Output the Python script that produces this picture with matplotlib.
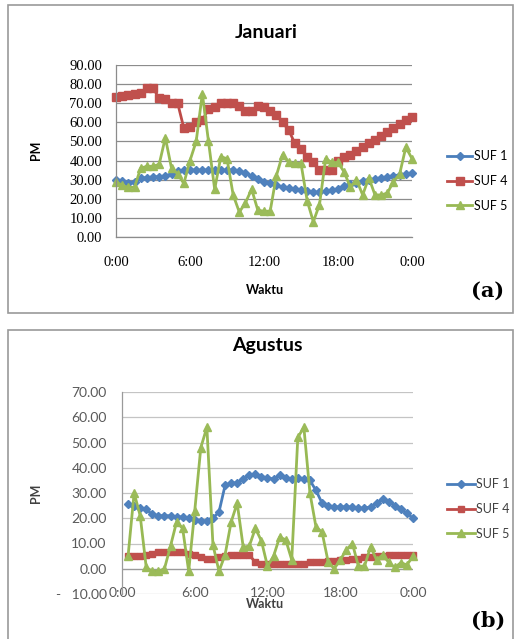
import matplotlib
matplotlib.use("Agg")
import matplotlib.pyplot as plt
from matplotlib.patches import Rectangle
import numpy as np

# ---------------- data ----------------
hours_jan = [i * 0.5 for i in range(49)]          # 0:00 .. 24:00, half-hourly
hours_aug = [i * 0.5 for i in range(1, 49)]       # 0:30 .. 24:00, half-hourly

jan_suf1 = [30, 29.5, 28, 29, 31, 31, 31.5, 31.5, 32, 33, 34.5, 35, 35, 35, 35, 35, 35, 35,
            35, 35, 34.5, 33.5, 32, 30.5, 29, 28, 27, 26, 25.5, 25, 24.5, 24, 23.5, 23.5,
            24, 24.5, 25, 26.5, 27.5, 28.5, 29.5, 30, 30.5, 31, 31.5, 32, 32.5, 33, 33.5]
jan_suf4 = [73, 74, 74.5, 75, 75.5, 78, 78, 72.5, 72, 70, 70, 57, 57.5, 60, 61, 67, 68, 70,
            70, 70, 68.5, 66, 66, 68.5, 68, 66, 64, 60, 56, 49, 46, 42, 39, 35, 35, 35,
            40, 42, 43, 45, 47, 49, 51, 53, 55, 57, 59, 61, 63]
jan_suf5 = [29, 27, 26, 26, 36, 37, 37, 38, 52, 36, 33, 28, 40, 50, 75, 50, 25, 42, 41, 22,
            13, 18, 25, 14, 13.5, 13.5, 32, 43, 39, 38.5, 38.5, 19, 8, 17, 41, 39, 39, 34,
            26, 30, 22, 31, 22, 22, 23, 29, 33, 47, 41]

aug_suf1 = [25.5, 25, 24, 23.5, 21.5, 21, 21, 21, 20.5, 20.5, 20, 19.5, 19, 19, 20, 22.5,
            33, 34, 34, 35.5, 37, 37.5, 36.5, 36, 35.5, 37, 36, 35.5, 36, 35.5, 35, 31, 26,
            25, 24.5, 24.5, 24.5, 24.5, 24, 24, 24.5, 26, 27.5, 26.5, 25, 23.5, 22, 20]
aug_suf4 = [5, 5, 5, 5.5, 6, 6.5, 6.5, 6.5, 6.5, 6.5, 6, 5.5, 4.5, 4, 4, 4.5, 5, 5.5, 5.5,
            5.5, 5.5, 2.5, 2, 2, 2, 2, 2, 2, 2, 2, 2.5, 2.5, 2.5, 3, 3, 3.5, 3.5, 4, 4, 4.5,
            4.5, 5, 5, 5.5, 5.5, 5.5, 5.5, 5.5]
aug_suf5 = [5, 30, 21, 0.5, -1, -1, 0, 9, 18.5, 16, -1, 23, 48, 56, 9.5, -1, 5.5, 18.5, 26,
            8.5, 9, 16, 11, 1, 5, 12.5, 11.5, 3.5, 52, 56, 30, 16.5, 14.5, 2.8, 0, 3.5, 7.5,
            10, 1, 1, 8.7, 3.5, 5.5, 2.5, 0.5, 2.4, 1.5, 5]

series_names = ["SUF 1", "SUF 4", "SUF 5"]
x_ticks = [0, 6, 12, 18, 24]
x_ticklabels = ["0:00", "6:00", "12:00", "18:00", "0:00"]
jan_yticks = [0, 10, 20, 30, 40, 50, 60, 70, 80, 90]
jan_yticklabels = ["0.00", "10.00", "20.00", "30.00", "40.00", "50.00", "60.00", "70.00", "80.00", "90.00"]
aug_yticks = [-10, 0, 10, 20, 30, 40, 50, 60, 70]
aug_yticklabels = ["-   10.00", "0.00", "10.00", "20.00", "30.00", "40.00", "50.00", "60.00", "70.00"]

# ---------------- styles ----------------
W, H = 515, 639
col_line = ["#4a7ebb", "#be4b48", "#98b954"]
col_mark = ["#4f81bd", "#c0504d", "#9bbb59"]
markers = ["D", "s", "^"]
msize_top = [4.2, 6.0, 6.0]
msize_bot = [3.8, 5.0, 5.5]

fig = plt.figure(figsize=(W / 100, H / 100), dpi=100)

def fx(px):
    return px / W

def fy(py):
    return 1 - py / H

# panel borders
fig.patches.append(Rectangle((fx(8), fy(313)), fx(505), 308 / H, transform=fig.transFigure,
                             fill=False, edgecolor="#9a9a9a", lw=1.2))
fig.patches.append(Rectangle((fx(8), fy(645)), fx(505), 315 / H, transform=fig.transFigure,
                             fill=False, edgecolor="#9a9a9a", lw=1.2))

# ---------------- top panel ----------------
ax1 = fig.add_axes([fx(116), fy(237), fx(296), 172 / H])
for i, ys in enumerate([jan_suf1, jan_suf4, jan_suf5]):
    ax1.plot(hours_jan, ys, color=col_line[i], lw=2.0, marker=markers[i], ms=msize_top[i],
             mfc=col_mark[i], mec=col_mark[i], label=series_names[i], clip_on=False)
ax1.set_xlim(0, 24)
ax1.set_ylim(0, 90)
ax1.set_yticks(jan_yticks)
ax1.set_yticklabels(jan_yticklabels, family="Liberation Serif", fontsize=10.5)
ax1.set_xticks(x_ticks)
ax1.set_xticklabels(x_ticklabels, family="Liberation Serif", fontsize=10.5)
ax1.tick_params(axis="both", length=0)
ax1.tick_params(axis="y", pad=10)
ax1.tick_params(axis="x", pad=14)
ax1.grid(axis="y", color="#8c8c8c", lw=0.9)
ax1.set_axisbelow(True)
for s in ["top", "right"]:
    ax1.spines[s].set_visible(False)
for s in ["left", "bottom"]:
    ax1.spines[s].set_color("#8c8c8c")
    ax1.spines[s].set_linewidth(0.9)
ax1.legend(loc="center left", bbox_to_anchor=(fx(447), fy(181)), bbox_transform=fig.transFigure,
           frameon=False, borderpad=0, borderaxespad=0, handlelength=2.0, handletextpad=0.2,
           labelspacing=1.0, prop={"family": "Lato", "size": 9})

fig.text(fx(266), fy(33), "Januari", ha="center", va="center", family="Lato",
         fontweight="bold", fontsize=14)
fig.text(fx(36), fy(150), "PM", ha="center", va="center", rotation=90, family="Lato",
         fontweight="bold", fontsize=9)
fig.text(fx(265), fy(290), "Waktu", ha="center", va="center", family="Lato",
         fontweight="bold", fontsize=9)
fig.text(fx(488), fy(291), "(a)", ha="center", va="center", family="DejaVu Serif",
         fontweight="bold", fontsize=15)

# ---------------- bottom panel ----------------
ax2 = fig.add_axes([fx(122), fy(594), fx(291), 202 / H])
for i, ys in enumerate([aug_suf1, aug_suf4, aug_suf5]):
    ax2.plot(hours_aug, ys, color=col_line[i], lw=2.0, marker=markers[i], ms=msize_bot[i],
             mfc=col_mark[i], mec=col_mark[i], label=series_names[i], clip_on=False)
ax2.set_xlim(0, 24)
ax2.set_ylim(-10, 70)
ax2.set_yticks(aug_yticks)
ax2.set_yticklabels(aug_yticklabels, family="Lato", fontsize=10, color="#595959")
ax2.set_xticks(x_ticks)
ax2.set_xticklabels(x_ticklabels, family="Lato", fontsize=10, color="#595959")
ax2.tick_params(axis="both", length=0)
ax2.tick_params(axis="y", pad=11)
ax2.tick_params(axis="x", pad=-5)
ax2.grid(axis="y", color="#c4c4c4", lw=0.9)
ax2.set_axisbelow(True)
ax2.axhline(0, color="#9a9a9a", lw=0.9, zorder=1)
for s in ["top", "right", "bottom"]:
    ax2.spines[s].set_visible(False)
ax2.spines["left"].set_color("#9a9a9a")
ax2.spines["left"].set_linewidth(0.9)
ax2.legend(loc="center left", bbox_to_anchor=(fx(447), fy(509)), bbox_transform=fig.transFigure,
           frameon=False, borderpad=0, borderaxespad=0, handlelength=2.2, handletextpad=0.1,
           labelspacing=1.0, prop={"family": "Lato", "size": 9}, labelcolor="#404040")

fig.text(fx(267), fy(346), "Agustus", ha="center", va="center", family="Lato",
         fontweight="bold", fontsize=14)
fig.text(fx(36), fy(493), "PM", ha="center", va="center", rotation=90, family="Lato",
         fontweight="bold", fontsize=9, color="#404040")
fig.text(fx(265), fy(604), "Waktu", ha="center", va="center", family="Lato",
         fontweight="bold", fontsize=9, color="#404040")
fig.text(fx(488), fy(621), "(b)", ha="center", va="center", family="DejaVu Serif",
         fontweight="bold", fontsize=15)

fig.savefig("out.png", dpi=100)
